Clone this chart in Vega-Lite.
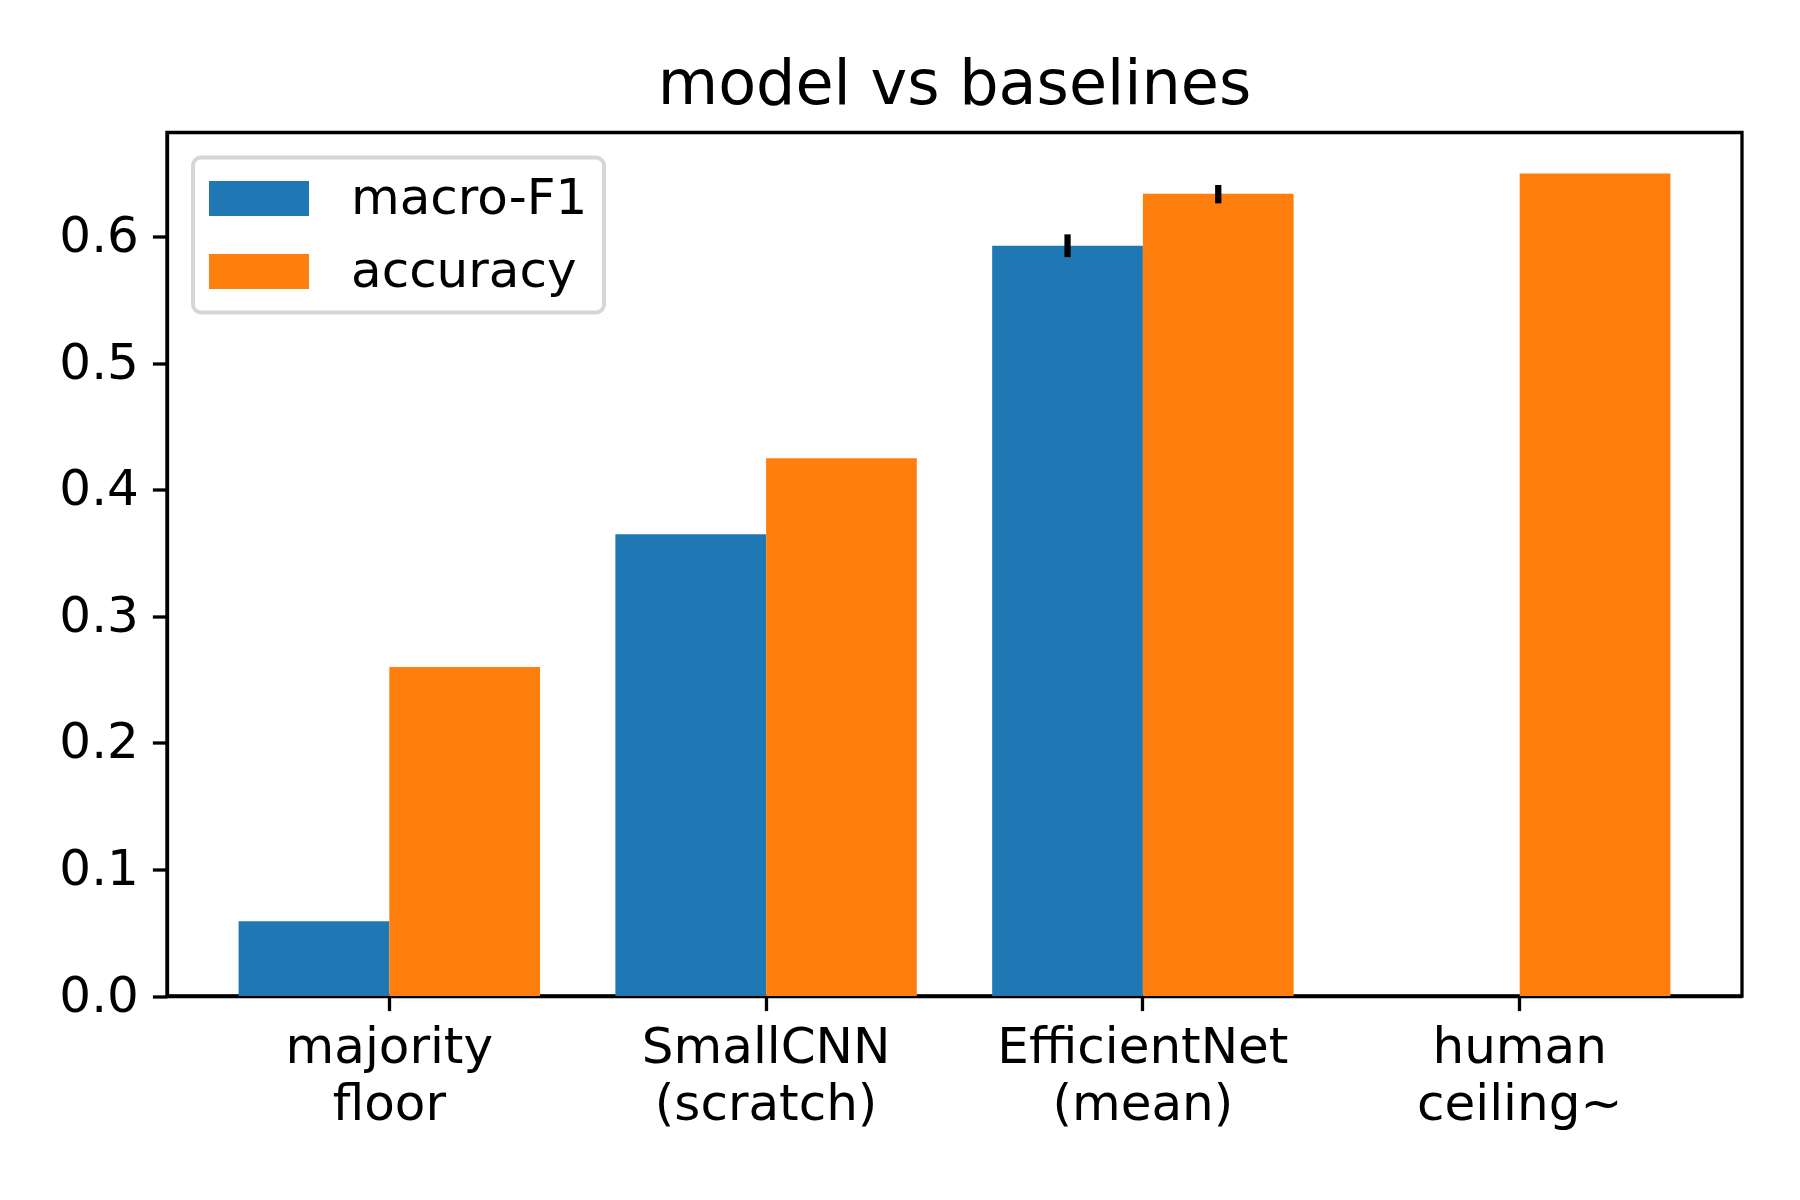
{
  "$schema": "https://vega.github.io/schema/vega-lite/v6.json",
  "width": 1575,
  "height": 863.5,
  "autosize": "none",
  "padding": {"left": 167, "top": 132.5, "right": 58, "bottom": 204},
  "background": "white",
  "title": {"text": "model vs baselines", "font": "DejaVu Sans", "fontSize": 62, "fontWeight": "normal", "color": "black", "anchor": "middle", "baseline": "bottom", "offset": 12, "dy": 58},
  "config": {
    "view": {"stroke": "black", "strokeWidth": 3.3},
    "axis": {
      "domainColor": "black", "domainWidth": 3.3,
      "tickColor": "black", "tickWidth": 3.3, "tickSize": 14.6,
      "labelFont": "DejaVu Sans", "labelFontSize": 50, "labelColor": "black",
      "labelPadding": 12, "labelLimit": 0, "grid": false, "title": null
    },
    "legend": {
      "labelFont": "DejaVu Sans", "labelFontSize": 50, "labelColor": "black", "labelLimit": 0,
      "strokeColor": "#d6d6d6", "strokeWidth": 4, "fillColor": "white",
      "cornerRadius": 8, "padding": 16
    }
  },
  "data": {
    "values": [
      {"model": "majority\nfloor", "series": "macro-F1", "value": 0.059},
      {"model": "majority\nfloor", "series": "accuracy", "value": 0.26},
      {"model": "SmallCNN\n(scratch)", "series": "macro-F1", "value": 0.365},
      {"model": "SmallCNN\n(scratch)", "series": "accuracy", "value": 0.425},
      {"model": "EfficientNet\n(mean)", "series": "macro-F1", "value": 0.593, "lo": 0.584, "hi": 0.602},
      {"model": "EfficientNet\n(mean)", "series": "accuracy", "value": 0.634, "lo": 0.6265, "hi": 0.641},
      {"model": "human\nceiling~", "series": "accuracy", "value": 0.65}
    ]
  },
  "encoding": {
    "x": {
      "field": "model", "type": "nominal", "sort": null, "title": null,
      "scale": {"paddingInner": 0.2, "paddingOuter": 0.19},
      "axis": {"labelAngle": 0, "labelExpr": "split(datum.label, '\\n')", "labelLineHeight": 57, "labelBaseline": "top"}
    },
    "xOffset": {
      "field": "series", "type": "nominal",
      "scale": {"domain": ["macro-F1", "accuracy"], "paddingInner": 0, "paddingOuter": 0}
    }
  },
  "layer": [
    {
      "mark": {"type": "bar"},
      "encoding": {
        "y": {
          "field": "value", "type": "quantitative", "title": null,
          "scale": {"domain": [0, 0.6825], "nice": false, "zero": true},
          "axis": {"values": [0, 0.1, 0.2, 0.3, 0.4, 0.5, 0.6], "format": ".1f", "labelPadding": 14}
        },
        "color": {
          "field": "series", "type": "nominal",
          "scale": {"domain": ["macro-F1", "accuracy"], "range": ["#1f77b4", "#ff7f0e"]},
          "legend": {
            "title": null, "orient": "none", "legendX": 26, "legendY": 25,
            "symbolType": "M-1,-0.7L3,-0.7L3,0.7L-1,0.7Z", "symbolSize": 2500,
            "symbolStrokeWidth": 0, "labelOffset": 92, "rowPadding": 23
          }
        }
      }
    },
    {
      "transform": [{"filter": "isValid(datum.lo)"}],
      "mark": {"type": "rule", "color": "black", "strokeWidth": 6.25},
      "encoding": {
        "y": {"field": "lo", "type": "quantitative", "title": null},
        "y2": {"field": "hi"}
      }
    }
  ]
}
